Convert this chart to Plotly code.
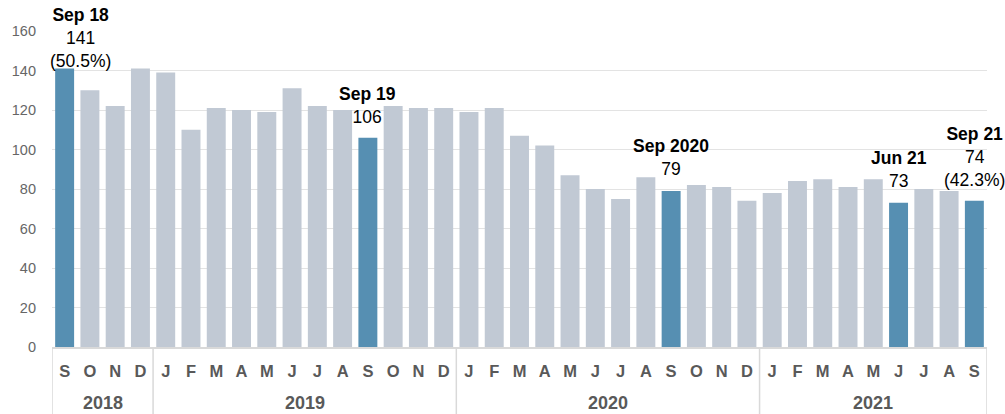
import plotly.graph_objects as go

months = ["S", "O", "N", "D",
          "J", "F", "M", "A", "M", "J", "J", "A", "S", "O", "N", "D",
          "J", "F", "M", "A", "M", "J", "J", "A", "S", "O", "N", "D",
          "J", "F", "M", "A", "M", "J", "J", "A", "S"]
years = ["2018", "2019", "2020", "2021"]
months_per_year = [4, 12, 12, 9]
values = [141, 130, 122, 141,
          139, 110, 121, 120, 119, 131, 122, 120, 106, 122, 121, 121,
          119, 121, 107, 102, 87, 80, 75, 86, 79, 82, 81, 74,
          78, 84, 85, 81, 85, 73, 80, 79, 74]

# highlighted bars: index -> (label, extra text)
highlights = {0: ("Sep 18", "(50.5%)"),
              12: ("Sep 19", ""),
              24: ("Sep 2020", ""),
              33: ("Jun 21", ""),
              36: ("Sep 21", "(42.3%)")}
label_shift = {0: (16, -4), 12: (0, 9), 24: (0, 10), 33: (0, 10), 36: (0, 9)}

BLUE = "#568fb2"
GREY = "#c1c9d4"
LINE = "#d9d9d9"
FONT = "Arial, Liberation Sans, sans-serif"

x = list(range(len(values)))
colors = [BLUE if i in highlights else GREY for i in x]

fig = go.Figure()
fig.add_trace(go.Bar(x=x, y=values, marker=dict(color=colors, line=dict(width=0)),
                     hoverinfo="y"))

annotations = []
for i, (name, extra) in highlights.items():
    txt = f"<b>{name}</b><br>{values[i]}"
    if extra:
        txt += f"<br>{extra}"
    dx, dy = label_shift[i]
    annotations.append(dict(x=i, y=values[i], text=txt, showarrow=False,
                            yanchor="bottom", xshift=dx, yshift=dy,
                            font=dict(family=FONT, size=17.5, color="#000")))

shapes = []
start = 0
bounds = [-0.5]
for yr, n in zip(years, months_per_year):
    mid = start + (n - 1) / 2
    annotations.append(dict(x=mid, y=-0.177, xref="x", yref="paper",
                            text=f"<b>{yr}</b>", showarrow=False, yanchor="middle",
                            font=dict(family=FONT, size=18, color="#595959")))
    start += n
    bounds.append(start - 0.5)
for b in bounds:
    shapes.append(dict(type="line", xref="x", yref="paper", x0=b, x1=b,
                       y0=0, y1=-0.22, line=dict(color=LINE, width=1.5)))

fig.update_layout(
    width=1005, height=414,
    margin=dict(l=52, r=18, t=31, b=67),
    paper_bgcolor="white", plot_bgcolor="white",
    bargap=0.25, showlegend=False,
    annotations=annotations, shapes=shapes,
    xaxis=dict(tickmode="array", tickvals=x,
               ticktext=[f"<b>{m}</b>" for m in months],
               tickfont=dict(family=FONT, size=16.5, color="#595959"),
               range=[-0.5, len(values) - 0.5], showgrid=False,
               showline=True, linecolor=LINE, linewidth=1.5,
               ticks="", ticklabelstandoff=8, zeroline=False),
    yaxis=dict(range=[0, 160], dtick=20, showgrid=True, gridcolor="#e3e3e3",
               gridwidth=1, zeroline=False, showline=False,
               tickfont=dict(family=FONT, size=14.5, color="#666666"),
               ticks="", ticklabelstandoff=15),
)

fig.write_html("out.html", config={"displayModeBar": False},
               post_script="document.body.style.margin='0';")
